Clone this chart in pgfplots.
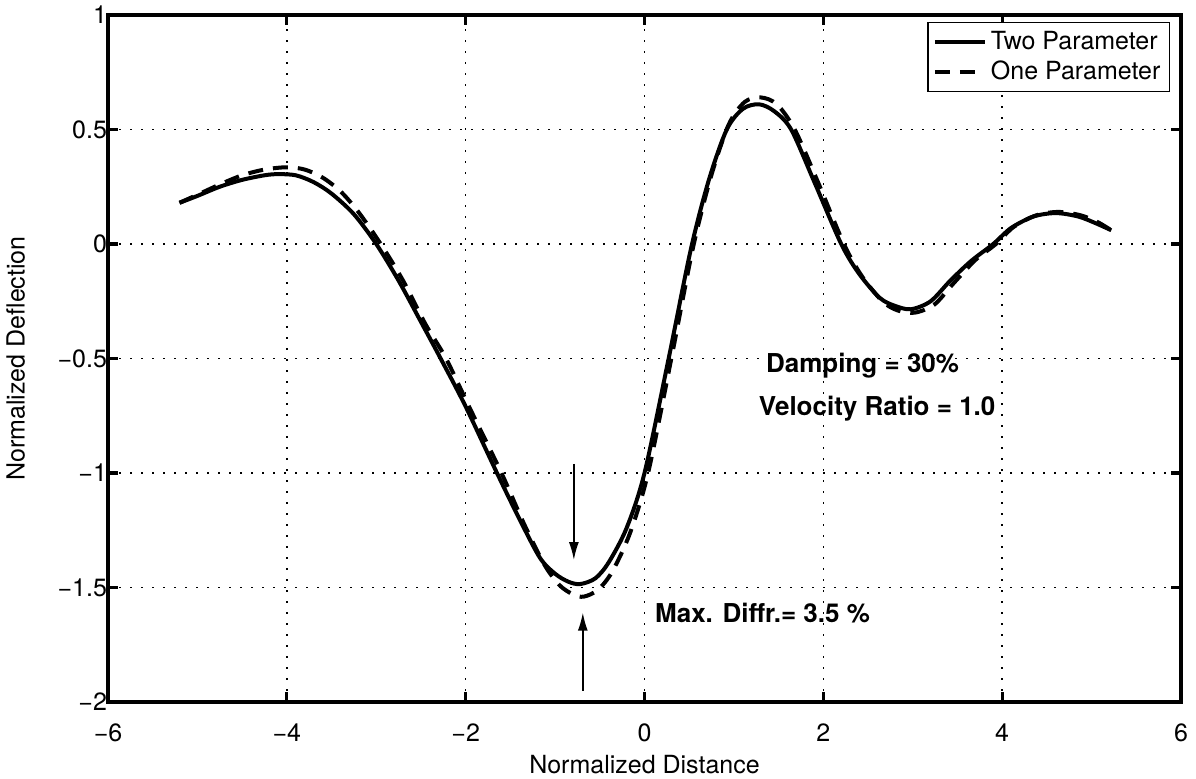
\documentclass[border=0pt]{standalone}
\usepackage{fontspec}
\setmainfont{TeX Gyre Heros}
\usepackage{pgfplots}
\pgfplotsset{compat=1.18}
\usetikzlibrary{arrows.meta}

% solid: two parameter model, dashed: one parameter model
\pgfplotstableread{
x y
-5.20 0.180
-5.00 0.210
-4.75 0.250
-4.50 0.280
-4.25 0.300
-4.10 0.305
-3.90 0.300
-3.70 0.270
-3.50 0.220
-3.25 0.130
-3.00 0.000
-2.75 -0.160
-2.50 -0.340
-2.28 -0.500
-2.00 -0.710
-1.65 -1.000
-1.40 -1.200
-1.17 -1.370
-1.00 -1.440
-0.85 -1.475
-0.72 -1.485
-0.55 -1.460
-0.40 -1.390
-0.20 -1.240
0.00 -1.000
0.27 -0.500
0.52 -0.020
0.72 0.280
0.92 0.500
1.10 0.590
1.28 0.610
1.45 0.580
1.64 0.500
1.90 0.270
2.20 0.000
2.40 -0.130
2.63 -0.235
2.80 -0.270
2.98 -0.285
3.20 -0.250
3.42 -0.160
3.65 -0.075
3.90 0.000
4.10 0.070
4.35 0.120
4.60 0.135
4.85 0.120
5.05 0.090
5.22 0.060
}\twoparam

\pgfplotstableread{
x y
-5.20 0.180
-5.00 0.215
-4.75 0.260
-4.50 0.300
-4.25 0.325
-4.00 0.335
-3.80 0.325
-3.60 0.290
-3.40 0.230
-3.20 0.140
-2.95 0.000
-2.70 -0.160
-2.45 -0.350
-2.22 -0.500
-1.95 -0.720
-1.60 -1.000
-1.35 -1.220
-1.12 -1.400
-0.95 -1.490
-0.80 -1.530
-0.68 -1.540
-0.52 -1.510
-0.36 -1.430
-0.16 -1.260
0.04 -1.000
0.30 -0.500
0.54 -0.020
0.74 0.290
0.94 0.520
1.12 0.620
1.30 0.640
1.48 0.610
1.68 0.500
1.94 0.270
2.23 0.000
2.43 -0.140
2.66 -0.250
2.83 -0.290
3.02 -0.300
3.24 -0.265
3.46 -0.170
3.70 -0.070
3.93 0.000
4.13 0.075
4.38 0.125
4.63 0.140
4.88 0.125
5.07 0.095
5.22 0.060
}\oneparam

\begin{document}
\begin{tikzpicture}
\begin{axis}[
    name=ax,
    scale only axis,
    width=536.5pt, height=343.5pt,
    xmin=-6, xmax=6, ymin=-2, ymax=1,
    xtick={-6,-4,-2,0,2,4,6},
    xticklabels={−6,−4,−2,0,2,4,6},
    ytick={-2,-1.5,-1,-0.5,0,0.5,1},
    yticklabels={−2,−1.5,−1,−0.5,0,0.5,1},
    tick align=inside,
    major tick length=5pt,
    every tick/.style={black, line width=1.6pt},
    axis line style={line width=1.8pt},
    grid=major,
    major grid style={black, line width=0.8pt, dash pattern=on 1pt off 4.5pt},
    tick label style={font=\fontsize{12.5}{15}\selectfont},
    xticklabel shift=7.5pt,
    yticklabel shift=-3pt,
    label style={font=\fontsize{12.5}{15}\selectfont},
    xlabel={Normalized Distance},
    ylabel={Normalized Deflection},
    x label style={at={(axis description cs:0.5,-0.091)}, anchor=center},
    y label style={at={(axis description cs:-0.086,0.5)}, anchor=center},
    legend style={
        at={(1,1)}, anchor=north east, xshift=-5.5pt, yshift=-3.5pt,
        draw=black, line width=0.7pt,
        font=\fontsize{12.5}{15}\selectfont,
        row sep=0pt, inner sep=2.5pt,
    },
    legend cell align=left,
    legend image code/.code={\draw[#1] (0pt,0pt) -- (25pt,0pt);},
]
\addplot[black, line width=2pt, smooth] table {\twoparam};
\addplot[black, line width=2pt, smooth, dash pattern=on 7.5pt off 5pt] table {\oneparam};
\legend{Two Parameter, One Parameter}

\node[anchor=west, font=\bfseries\fontsize{13}{16}\selectfont] at (axis cs:1.28,-0.53) {Damping = 30\%};
\node[anchor=west, font=\bfseries\fontsize{13}{16}\selectfont] at (axis cs:1.20,-0.72) {Velocity Ratio = 1.0};
\node[anchor=west, font=\bfseries\fontsize{13}{16}\selectfont] at (axis cs:0.04,-1.61) {Max. Diffr.= 3.5 \%};
\draw[line width=0.8pt, -{Latex[length=9pt,width=5pt]}] (axis cs:-0.79,-0.96) -- (axis cs:-0.79,-1.38);
\draw[line width=0.8pt, -{Latex[length=9pt,width=5pt]}] (axis cs:-0.69,-1.95) -- (axis cs:-0.69,-1.61);
\end{axis}
\pgfresetboundingbox
\path[use as bounding box] ([shift={(-54pt,-38.5pt)}]ax.south west) rectangle ([shift={(7.5pt,7.5pt)}]ax.north east);
\end{tikzpicture}
\end{document}
